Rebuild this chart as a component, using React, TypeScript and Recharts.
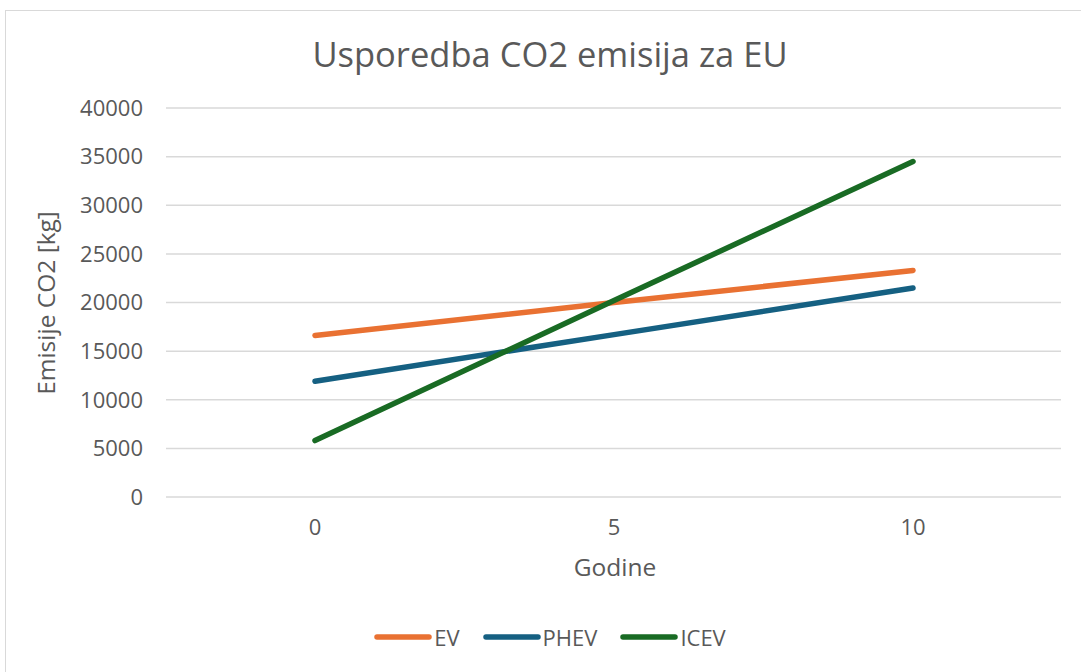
import React from 'react';
import { LineChart, Line, XAxis, YAxis, CartesianGrid, Legend } from 'recharts';

const years = ['0', '5', '10'];
const evValues = [16600, 20000, 23300];
const phevValues = [11900, 16700, 21500];
const icevValues = [5800, 20200, 34500];
const yTicks = [0, 5000, 10000, 15000, 20000, 25000, 30000, 35000, 40000];
const seriesOrder = ['EV', 'PHEV', 'ICEV'];

const chartTitle = 'Usporedba CO2 emisija za EU';
const xTitle = 'Godine';
const yTitle = 'Emisije CO2 [kg]';

const data = years.map((y, i) => ({
  year: y,
  EV: evValues[i],
  PHEV: phevValues[i],
  ICEV: icevValues[i],
}));

const FONT = "'Open Sans', sans-serif";
const TEXT = '#595959';
const GRID = '#D9D9D9';

const renderLegend = (props: any) => {
  const { payload } = props;
  const items = [...(payload || [])].sort(
    (a: any, b: any) => seriesOrder.indexOf(a.value) - seriesOrder.indexOf(b.value)
  );
  return (
    <div
      style={{
        width: 1100,
        height: 30,
        display: 'flex',
        justifyContent: 'center',
        alignItems: 'center',
      }}
    >
      {items.map((e: any, i: number) => (
        <div
          key={e.value}
          style={{ display: 'flex', alignItems: 'center', marginRight: i < items.length - 1 ? 23 : 0 }}
        >
          <svg width={58} height={10}>
            <line x1={3} y1={5} x2={55} y2={5} stroke={e.color} strokeWidth={5.5} strokeLinecap="round" />
          </svg>
          <span style={{ fontFamily: FONT, fontSize: 22, color: TEXT, marginLeft: 2, lineHeight: '30px' }}>
            {e.value}
          </span>
        </div>
      ))}
    </div>
  );
};

export default function App() {
  return (
    <div
      style={{
        position: 'absolute',
        left: 0,
        top: 0,
        width: 1081,
        height: 672,
        overflow: 'hidden',
        background: '#fff',
      }}
    >
      <div
        style={{
          position: 'absolute',
          left: 5,
          top: 10,
          width: 1300,
          height: 900,
          borderLeft: `1.5px solid ${GRID}`,
          borderTop: `1.5px solid ${GRID}`,
          boxSizing: 'border-box',
        }}
      />
      <div style={{ position: 'absolute', left: 0, top: 0 }}>
        <LineChart
          width={1081}
          height={672}
          data={data}
          margin={{ top: 108, right: 20, bottom: 20, left: 0 }}
        >
          <CartesianGrid horizontal vertical={false} stroke={GRID} strokeWidth={1.5} />
          <XAxis
            dataKey="year"
            axisLine={false}
            tickLine={false}
            tickSize={0}
            tickMargin={22}
            height={125}
            padding={{ left: 149, right: 148 }}
            tick={{ fill: TEXT, fontSize: 22, fontFamily: FONT }}
            label={{
              content: () => (
                <text x={615} y={576} textAnchor="middle" fill={TEXT} fontSize={24.5} fontFamily={FONT}>
                  {xTitle}
                </text>
              ),
            }}
          />
          <YAxis
            width={166}
            domain={[0, 40000]}
            ticks={yTicks}
            axisLine={false}
            tickLine={false}
            tickSize={0}
            tickMargin={23}
            interval={0}
            tick={{ fill: TEXT, fontSize: 22, fontFamily: FONT }}
            label={{
              content: () => (
                <g>
                  <text
                    x={46}
                    y={303}
                    dy="0.355em"
                    transform="rotate(-90 46 303)"
                    textAnchor="middle"
                    fill={TEXT}
                    fontSize={24.5}
                    fontFamily={FONT}
                  >
                    {yTitle}
                  </text>
                  <text x={550} y={67} textAnchor="middle" fill={TEXT} fontSize={34.5} fontFamily={FONT}>
                    {chartTitle}
                  </text>
                </g>
              ),
            }}
          />
          <Legend verticalAlign="bottom" content={renderLegend} />
          <Line
            dataKey="EV"
            stroke="#E97132"
            strokeWidth={5.5}
            strokeLinecap="round"
            dot={false}
            activeDot={false}
            isAnimationActive={false}
          />
          <Line
            dataKey="PHEV"
            stroke="#156082"
            strokeWidth={5.5}
            strokeLinecap="round"
            dot={false}
            activeDot={false}
            isAnimationActive={false}
          />
          <Line
            dataKey="ICEV"
            stroke="#196B24"
            strokeWidth={5.5}
            strokeLinecap="round"
            dot={false}
            activeDot={false}
            isAnimationActive={false}
          />
        </LineChart>
      </div>
    </div>
  );
}
